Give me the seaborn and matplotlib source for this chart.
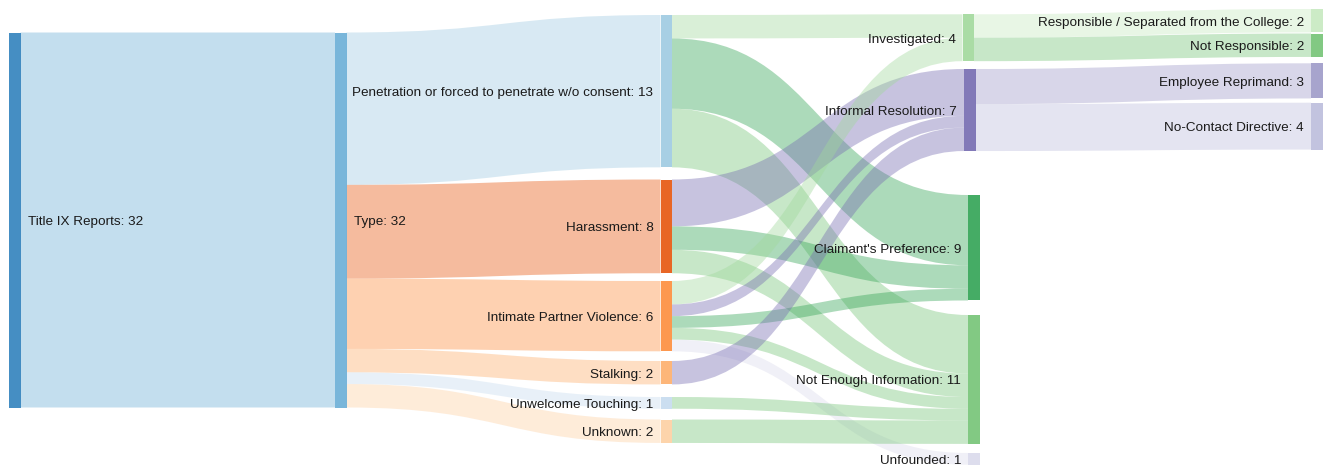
import matplotlib
matplotlib.use('Agg')
import matplotlib.pyplot as plt
from matplotlib.path import Path
from matplotlib.patches import PathPatch, Rectangle
import seaborn as sns

## Data
nodes = ['Title IX Reports', 'Type',
         'Penetration or forced to penetrate w/o consent', 'Harassment',
         'Intimate Partner Violence', 'Stalking', 'Unwelcome Touching', 'Unknown',
         'Investigated', 'Informal Resolution', "Claimant's Preference",
         'Not Enough Information', 'Unfounded',
         'Responsible / Separated from the College', 'Not Responsible',
         'Employee Reprimand', 'No-Contact Directive']
sources = ['Title IX Reports',
           'Type', 'Type', 'Type', 'Type', 'Type', 'Type',
           'Penetration or forced to penetrate w/o consent',
           'Penetration or forced to penetrate w/o consent',
           'Penetration or forced to penetrate w/o consent',
           'Harassment', 'Harassment', 'Harassment',
           'Intimate Partner Violence', 'Intimate Partner Violence',
           'Intimate Partner Violence', 'Intimate Partner Violence',
           'Intimate Partner Violence',
           'Stalking', 'Unwelcome Touching', 'Unknown',
           'Investigated', 'Investigated',
           'Informal Resolution', 'Informal Resolution']
targets = ['Type',
           'Penetration or forced to penetrate w/o consent', 'Harassment',
           'Intimate Partner Violence', 'Stalking', 'Unwelcome Touching', 'Unknown',
           'Investigated', "Claimant's Preference", 'Not Enough Information',
           'Informal Resolution', "Claimant's Preference", 'Not Enough Information',
           'Investigated', 'Informal Resolution', "Claimant's Preference",
           'Not Enough Information', 'Unfounded',
           'Informal Resolution', 'Not Enough Information', 'Not Enough Information',
           'Responsible / Separated from the College', 'Not Responsible',
           'Employee Reprimand', 'No-Contact Directive']
values = [32,
          13, 8, 6, 2, 1, 2,
          2, 6, 5,
          4, 2, 2,
          2, 1, 1, 1, 1,
          2, 1, 2,
          2, 2,
          3, 4]

## Layout (pixels)
column = [0, 1, 2, 2, 2, 2, 2, 2, 3, 3, 3, 3, 3, 4, 4, 4, 4]
col_x = [9, 335, 660.5, 962.5, 1311]
x_nudge = [0, 0, 0, 0, 0, 0, 0, 0, 0, 1.5, 5.5, 5.5, 5.5, 0, 0, 0, 0]
node_top = [32.5, 32.5, 15, 179.5, 281, 361, 397, 419.5,
            14.3, 69, 195, 315, 453, 9, 33.5, 63.3, 102.7]
node_w = 11.5
scale = 375 / 32

palette = sns.color_palette(['#3182bd', '#6baed6', '#9ecae1', '#e6550d', '#fd8d3c',
                             '#fdae6b', '#c6dbef', '#fdd0a2', '#a1d99b', '#756bb1',
                             '#31a354', '#74c476', '#dadaeb', '#c7e9c0', '#74c476',
                             '#9e9ac8', '#bcbddc'])

sns.set_style('white')
plt.rcParams['font.family'] = ['Liberation Sans', 'DejaVu Sans']

idx = {n: i for i, n in enumerate(nodes)}
total_in = [0] * len(nodes)
total_out = [0] * len(nodes)
for s, t, v in zip(sources, targets, values):
    total_out[idx[s]] += v
    total_in[idx[t]] += v
node_val = [max(a, b) for a, b in zip(total_in, total_out)]
x0 = [col_x[c] + dx for c, dx in zip(column, x_nudge)]
x1 = [x + node_w for x in x0]

fig = plt.figure(figsize=(13.25, 4.68), dpi=100)
ax = fig.add_axes([0, 0, 1, 1])
ax.set_xlim(0, 1325)
ax.set_ylim(468, 0)
ax.axis('off')

## link offsets: out-links sorted by target position, in-links by source position
links = list(range(len(values)))
src_y = {}
tgt_y = {}
for n in range(len(nodes)):
    outs = sorted([l for l in links if idx[sources[l]] == n], key=lambda l: node_top[idx[targets[l]]])
    y = node_top[n]
    for l in outs:
        src_y[l] = y
        y += values[l] * scale
    ins = sorted([l for l in links if idx[targets[l]] == n], key=lambda l: node_top[idx[sources[l]]])
    y = node_top[n]
    for l in ins:
        tgt_y[l] = y
        y += values[l] * scale

for l in links:
    s, t = idx[sources[l]], idx[targets[l]]
    w = values[l] * scale
    xa, xb = x1[s], x0[t]
    xm = (xa + xb) / 2
    ya, yb = src_y[l], tgt_y[l]
    verts = [(xa, ya), (xm, ya), (xm, yb), (xb, yb),
             (xb, yb + w), (xm, yb + w), (xm, ya + w), (xa, ya + w), (xa, ya)]
    codes = [Path.MOVETO, Path.CURVE4, Path.CURVE4, Path.CURVE4,
             Path.LINETO, Path.CURVE4, Path.CURVE4, Path.CURVE4, Path.CLOSEPOLY]
    ax.add_patch(PathPatch(Path(verts, codes), facecolor=palette[t], alpha=0.4,
                           edgecolor='none', zorder=1))

for n, name in enumerate(nodes):
    h = node_val[n] * scale
    ax.add_patch(Rectangle((x0[n], node_top[n]), node_w, h, facecolor=palette[n],
                           alpha=0.9, edgecolor='none', zorder=2))
    yc = node_top[n] + h / 2 + 1.8
    label = f'{name}: {node_val[n]}'
    if column[n] < 2:
        ax.text(x1[n] + 7, yc, label, ha='left', va='center', fontsize=9.7,
                color='#1a1a1a', zorder=3)
    else:
        ax.text(x0[n] - 7, yc, label, ha='right', va='center', fontsize=9.7,
                color='#1a1a1a', zorder=3)

plt.savefig('out.png', dpi=100)
plt.close()
